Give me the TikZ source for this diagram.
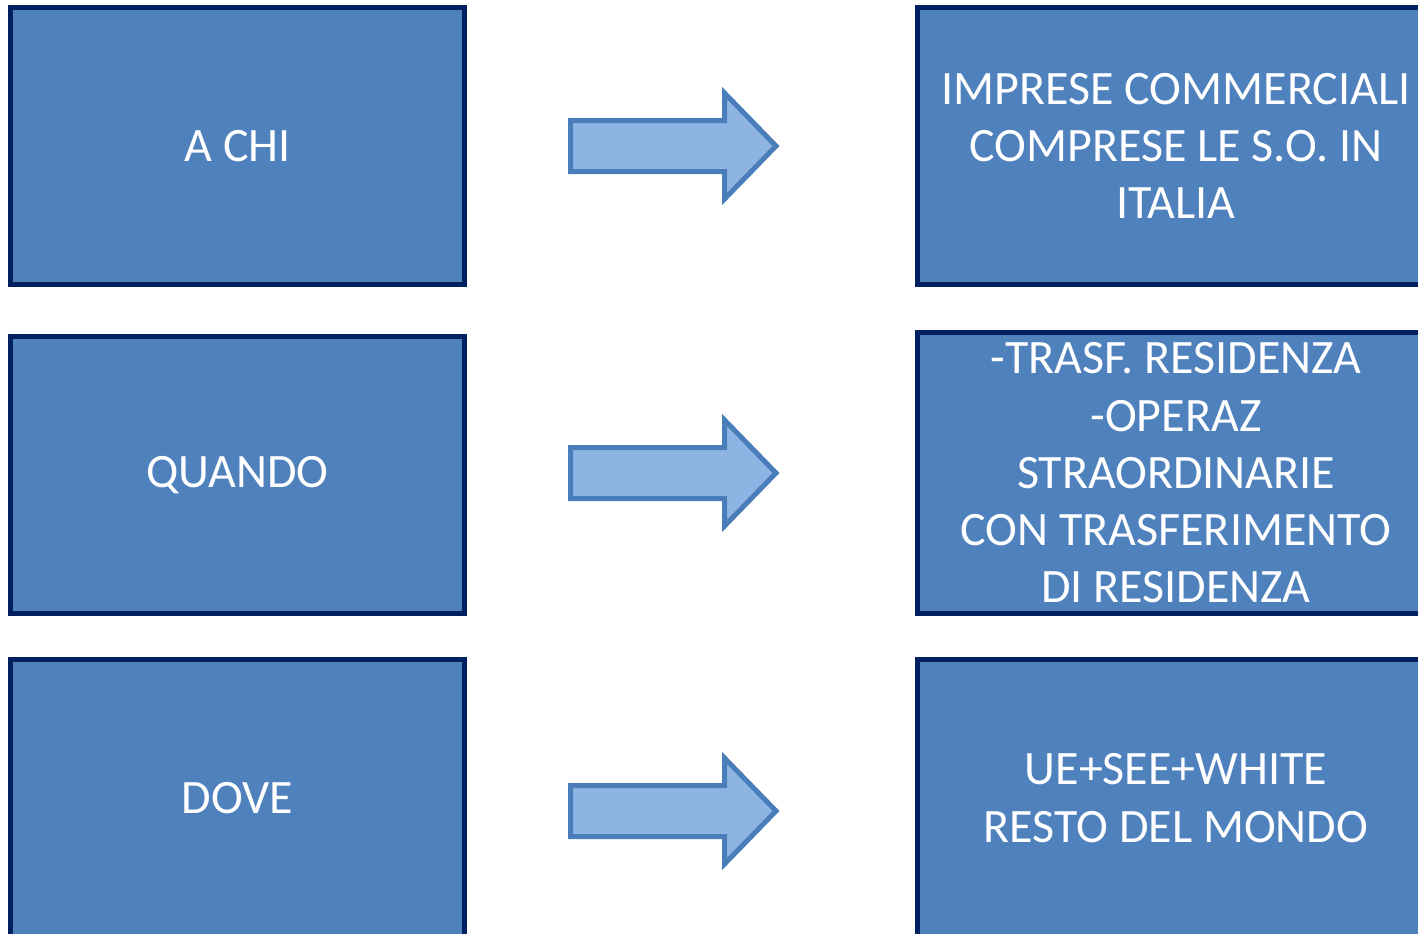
\documentclass[tikz,border=0pt]{standalone}
\usepackage{fontspec}
\setmainfont{Carlito}
\usetikzlibrary{positioning}
\definecolor{boxfill}{HTML}{4F81BD}
\definecolor{boxline}{HTML}{002060}
\definecolor{arrfill}{HTML}{8EB4E3}
\definecolor{arrline}{HTML}{4A7EBB}

\begin{document}
\begin{tikzpicture}[x=0.02cm,y=-0.02cm]
			\tikzstyle{every node}+=[inner sep=0pt]
			\tikzstyle{blk}=[draw=boxline, fill=boxfill, line width=0.1cm, text=white, align=center, font=\fontsize{27.3}{32.6}\selectfont]
			\tikzstyle{leftblk}=[blk, minimum width=9.08cm, minimum height=5.54cm]
			\tikzstyle{rightblk}=[blk, minimum width=10.34cm, minimum height=5.54cm]
			\tikzstyle{bigarr}=[draw=arrline, fill=arrfill, line width=0.1cm, line join=miter]
			\useasboundingbox (0,0) rectangle (1418,934);
			\clip (0,0) rectangle (1418,934);
			% left column
			\node [leftblk] (achi) at (237.5,146) {A CHI};
			\node [leftblk] (quando) at (237.5,475) {QUANDO};
			\node [leftblk] (dove) at (237.5,798) {DOVE};
			% right column
			\node [rightblk] (imprese) at (1176,146) {IMPRESE COMMERCIALI\\COMPRESE LE S.O. IN\\ITALIA};
			\node [rightblk, minimum height=5.62cm] (trasf) at (1176,473) {-TRASF. RESIDENZA\\-OPERAZ\\STRAORDINARIE\\CON TRASFERIMENTO\\DI RESIDENZA};
			\node [rightblk] (mondo) at (1176,798) {UE+SEE+WHITE\\RESTO DEL MONDO};
			% block arrows
			\draw [bigarr] (570.5,120.5) -- (724.5,120.5) -- (724.5,93) -- (776,146) -- (724.5,199) -- (724.5,171.5) -- (570.5,171.5) -- cycle;
			\draw [bigarr] (570.5,447.5) -- (724.5,447.5) -- (724.5,420) -- (776,473) -- (724.5,526) -- (724.5,498.5) -- (570.5,498.5) -- cycle;
			\draw [bigarr] (570.5,785.5) -- (724.5,785.5) -- (724.5,758) -- (776,811) -- (724.5,864) -- (724.5,836.5) -- (570.5,836.5) -- cycle;
\end{tikzpicture}
\end{document}
